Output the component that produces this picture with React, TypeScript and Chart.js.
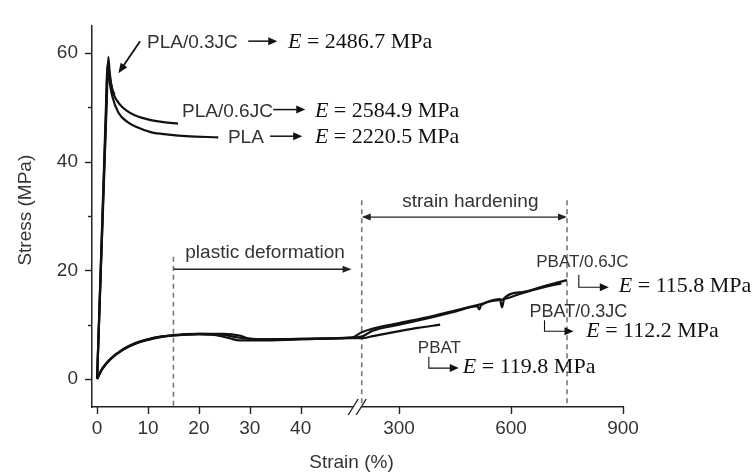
import React, { useEffect, useRef } from "react";
import { Chart, registerables } from "chart.js";
Chart.register(...registerables);

// ---------------- data: strain (%) and stress (MPa) ----------------
const PLA_03JC_STRAIN = [0, 0.7, 1.4, 1.9, 2.2, 2.5, 2.9, 3.4];
const PLA_03JC_STRESS = [0, 18.9, 37.7, 51.2, 59.3, 56.2, 53.6, 52.4];

const PLA_06JC_STRAIN = [0, 0.7, 1.4, 1.85, 2.1, 2.5, 3.2, 4.5, 5.8, 7.5, 10.4, 13, 15.9];
const PLA_06JC_STRESS = [0, 19.4, 38.9, 51.4, 58.4, 55.6, 52.6, 50.5, 49.4, 48.5, 47.7, 47.3, 47.0];

const PLA_STRAIN = [0, 0.7, 1.4, 1.75, 2.0, 2.4, 3.0, 4.2, 6, 8, 10.7, 14, 17.5, 23.8];
const PLA_STRESS = [0, 20.2, 40.3, 50.4, 57.6, 55.0, 52.0, 49.0, 47.3, 46.3, 45.4, 45.0, 44.7, 44.5];

const PBAT_STRAIN = [0, 1, 2.5, 5, 7.5, 10, 12.5, 15, 20, 23, 26, 28, 32, 40, 50, 200, 230, 300, 350, 410];
const PBAT_STRESS = [0, 1.9, 3.6, 5.4, 6.6, 7.3, 7.8, 8.0, 8.2, 8.1, 7.5, 7.1, 7.1, 7.3, 7.5, 7.5, 7.9, 8.8, 9.4, 10.0];

const PBAT_03JC_STRAIN = [0, 1, 2.5, 5, 7.5, 10, 12.5, 15, 20, 25, 28, 30, 35, 40, 50, 200, 230, 300, 390, 450, 510, 515, 520, 576, 630, 694, 735];
const PBAT_03JC_STRESS = [0, 1.8, 3.5, 5.3, 6.5, 7.2, 7.7, 8.0, 8.3, 8.3, 8.0, 7.4, 7.3, 7.4, 7.6, 7.8, 8.9, 10.0, 11.4, 12.4, 13.4, 12.8, 13.6, 14.6, 15.8, 17.0, 17.6];

const PBAT_06JC_STRAIN = [0, 1, 2.5, 5, 7.5, 10, 12.5, 15, 20, 24, 28, 32, 40, 50, 200, 230, 300, 390, 450, 515, 570, 576, 582, 630, 694, 750];
const PBAT_06JC_STRESS = [0, 1.8, 3.6, 5.4, 6.5, 7.3, 7.8, 8.1, 8.3, 8.2, 7.6, 7.3, 7.4, 7.6, 8.6, 9.3, 10.3, 11.6, 12.6, 13.7, 14.7, 13.2, 14.9, 16.0, 17.2, 18.2];

const X_TICKS = [0, 10, 20, 30, 40, 300, 600, 900];
const Y_MAJOR_TICKS = [0, 20, 40, 60];
const Y_MINOR_TICKS = [10, 30, 50];

// ---------------- broken x axis mapping ----------------
const SEG2_FROM = 200;
const SEG2_D = 52;
const SEG2_RATE = 44 / 600;
function mapX(s: number): number {
  return s < 100 ? s : SEG2_D + (s - SEG2_FROM) * SEG2_RATE;
}
const BREAK_D = 51.1;

const SANS = "'Liberation Sans', Arial, Helvetica, sans-serif";
const SERIF = "'Liberation Serif', 'Times New Roman', serif";
const TEXT = "#333";
const INK = "#111";

function series(xs: number[], ys: number[]) {
  return xs.map((s, i) => ({ x: mapX(s), y: ys[i] }));
}

const overlay = {
  id: "overlay",
  beforeDatasetsDraw(chart: any) {
    const ctx = chart.ctx;
    const xs = chart.scales.x;
    const ys = chart.scales.y;
    const X = (s: number) => xs.getPixelForValue(mapX(s));
    const Y = (v: number) => ys.getPixelForValue(v);
    const bottom = chart.chartArea.bottom;
    ctx.save();
    ctx.strokeStyle = "#777";
    ctx.lineWidth = 1.6;
    ctx.setLineDash([5, 4]);
    [
      { s: 15, v: 22.5 },
      { s: 200, v: 32.9 },
      { s: 750, v: 32.9 },
    ].forEach((d) => {
      ctx.beginPath();
      ctx.moveTo(X(d.s), Y(d.v));
      ctx.lineTo(X(d.s), bottom);
      ctx.stroke();
    });
    ctx.restore();
  },
  afterDraw(chart: any) {
    const ctx = chart.ctx;
    const xs = chart.scales.x;
    const ys = chart.scales.y;
    const ca = chart.chartArea;
    const X = (s: number) => xs.getPixelForValue(mapX(s));
    const Y = (v: number) => ys.getPixelForValue(v);
    ctx.save();

    // tick marks
    ctx.strokeStyle = "#222";
    ctx.lineWidth = 1.4;
    X_TICKS.forEach((s) => {
      const px = Math.round(X(s)) + 0.5;
      ctx.beginPath();
      ctx.moveTo(px, ca.bottom);
      ctx.lineTo(px, ca.bottom + 7);
      ctx.stroke();
    });
    Y_MAJOR_TICKS.forEach((v) => {
      const py = Math.round(Y(v)) + 0.5;
      ctx.beginPath();
      ctx.moveTo(ca.left - 7, py);
      ctx.lineTo(ca.left, py);
      ctx.stroke();
    });
    Y_MINOR_TICKS.forEach((v) => {
      const py = Math.round(Y(v)) + 0.5;
      ctx.beginPath();
      ctx.moveTo(ca.left - 4, py);
      ctx.lineTo(ca.left, py);
      ctx.stroke();
    });

    // axis break marks
    const xb = xs.getPixelForValue(BREAK_D);
    const yb = ca.bottom;
    ctx.fillStyle = "#fff";
    ctx.beginPath();
    ctx.moveTo(xb - 4 - 2.5, yb + 4);
    ctx.lineTo(xb + 4 - 2.5, yb + 4);
    ctx.lineTo(xb + 4 + 2.5, yb - 4);
    ctx.lineTo(xb - 4 + 2.5, yb - 4);
    ctx.closePath();
    ctx.fill();
    ctx.strokeStyle = "#222";
    ctx.lineWidth = 1.4;
    [-4, 4].forEach((o) => {
      ctx.beginPath();
      ctx.moveTo(xb + o - 5, yb + 8);
      ctx.lineTo(xb + o + 5, yb - 8);
      ctx.stroke();
    });

    // arrow helpers
    const head = (x1: number, y1: number, x2: number, y2: number, len: number, hw: number) => {
      const a = Math.atan2(y2 - y1, x2 - x1);
      ctx.beginPath();
      ctx.moveTo(x2, y2);
      ctx.lineTo(x2 - len * Math.cos(a) + hw * Math.sin(a), y2 - len * Math.sin(a) - hw * Math.cos(a));
      ctx.lineTo(x2 - len * Math.cos(a) - hw * Math.sin(a), y2 - len * Math.sin(a) + hw * Math.cos(a));
      ctx.closePath();
      ctx.fill();
    };
    const arrow = (x1: number, y1: number, x2: number, y2: number, len = 9, hw = 3.8, both = false, lw = 1.5) => {
      const a = Math.atan2(y2 - y1, x2 - x1);
      ctx.lineWidth = lw;
      ctx.beginPath();
      ctx.moveTo(both ? x1 + (len - 1) * Math.cos(a) : x1, both ? y1 + (len - 1) * Math.sin(a) : y1);
      ctx.lineTo(x2 - (len - 1) * Math.cos(a), y2 - (len - 1) * Math.sin(a));
      ctx.stroke();
      head(x1, y1, x2, y2, len, hw);
      if (both) head(x2, y2, x1, y1, len, hw);
    };

    ctx.strokeStyle = INK;
    ctx.fillStyle = INK;
    // arrows after PLA labels
    [
      { s1: 29.7, s2: 35.4, v: 62.2 },
      { s1: 34.6, s2: 40.9, v: 49.6 },
      { s1: 34.0, s2: 40.3, v: 44.7 },
    ].forEach((a) => arrow(X(a.s1), Y(a.v), X(a.s2), Y(a.v), 9, 4));
    // pointer to PLA/0.3JC peak
    arrow(X(8.45), Y(62.2), X(4.18), Y(56.3), 10, 4, false, 1.8);

    // region arrows
    ctx.strokeStyle = "#222";
    ctx.fillStyle = "#222";
    arrow(X(15), Y(20.2), X(50.0), Y(20.2), 9, 3.5, false, 1.3);
    arrow(X(200), Y(29.8), X(750), Y(29.8), 9, 3.5, true, 1.3);

    // hook arrows for PBAT labels
    ctx.strokeStyle = INK;
    ctx.fillStyle = INK;
    [
      { s: 781.6, vTop: 19.2, vBot: 16.9, sTip: 862 },
      { s: 689.7, vTop: 10.8, vBot: 8.8, sTip: 767.4 },
      { s: 379.8, vTop: 4.1, vBot: 2.0, sTip: 460 },
    ].forEach((h) => {
      const xv = X(h.s);
      const yb2 = Y(h.vBot);
      const xt = X(h.sTip);
      ctx.lineWidth = 1.1;
      ctx.beginPath();
      ctx.moveTo(xv, Y(h.vTop));
      ctx.lineTo(xv, yb2);
      ctx.lineTo(xt - 7, yb2);
      ctx.stroke();
      head(xv, yb2, xt, yb2, 9, 4);
    });

    // sans labels
    ctx.fillStyle = TEXT;
    ctx.textBaseline = "alphabetic";
    ctx.textAlign = "left";
    [
      { t: "PLA/0.3JC", s: 9.8, v: 61.0, size: 19 },
      { t: "PLA/0.6JC", s: 16.7, v: 48.15, size: 19 },
      { t: "PLA", s: 25.7, v: 43.5, size: 19 },
      { t: "PBAT/0.6JC", s: 667.5, v: 20.7, size: 17 },
      { t: "PBAT/0.3JC", s: 649.5, v: 11.5, size: 18 },
      { t: "PBAT", s: 350.3, v: 4.7, size: 17 },
    ].forEach((l) => {
      ctx.font = `${l.size}px ${SANS}`;
      ctx.fillText(l.t, X(l.s), Y(l.v));
    });
    ctx.textAlign = "center";
    ctx.font = `19px ${SANS}`;
    ctx.fillText("plastic deformation", X(33), Y(22.2));
    ctx.fillText("strain hardening", X(491), Y(31.7));

    // modulus labels (serif, italic E)
    ctx.textAlign = "left";
    ctx.fillStyle = INK;
    [
      { s: 37.5, v: 61.0, rest: " = 2486.7 MPa" },
      { s: 42.8, v: 48.15, rest: " = 2584.9 MPa" },
      { s: 42.8, v: 43.5, rest: " = 2220.5 MPa" },
      { s: 888.7, v: 15.95, rest: " = 115.8 MPa" },
      { s: 801.4, v: 7.65, rest: " = 112.2 MPa" },
      { s: 470.8, v: 1.1, rest: " = 119.8 MPa" },
    ].forEach((e) => {
      const x0 = X(e.s);
      const y0 = Y(e.v);
      ctx.font = `italic 22px ${SERIF}`;
      ctx.fillText("E", x0, y0);
      const w = ctx.measureText("E").width;
      ctx.font = `22px ${SERIF}`;
      ctx.fillText(e.rest, x0 + w, y0);
    });

    // axis titles
    ctx.fillStyle = TEXT;
    ctx.font = `19px ${SANS}`;
    ctx.textAlign = "center";
    ctx.fillText("Strain (%)", (ca.left + ca.right) / 2 - 6, ca.bottom + 61);
    ctx.save();
    ctx.translate(31, (ca.top + ca.bottom) / 2 - 6);
    ctx.rotate(-Math.PI / 2);
    ctx.fillText("Stress (MPa)", 0, 0);
    ctx.restore();

    ctx.restore();
  },
};

export default function App() {
  const ref = useRef<HTMLCanvasElement | null>(null);
  useEffect(() => {
    if (!ref.current) return;
    const line = (data: { x: number; y: number }[]) => ({
      data,
      borderColor: INK,
      borderWidth: 2.2,
      pointRadius: 0,
      fill: false,
      cubicInterpolationMode: "monotone" as const,
    });
    const chart = new Chart(ref.current, {
      type: "line",
      data: {
        datasets: [
          line(series(PLA_03JC_STRAIN, PLA_03JC_STRESS)),
          line(series(PLA_06JC_STRAIN, PLA_06JC_STRESS)),
          line(series(PLA_STRAIN, PLA_STRESS)),
          line(series(PBAT_STRAIN, PBAT_STRESS)),
          line(series(PBAT_03JC_STRAIN, PBAT_03JC_STRESS)),
          line(series(PBAT_06JC_STRAIN, PBAT_06JC_STRESS)),
        ],
      },
      options: {
        animation: false,
        responsive: true,
        maintainAspectRatio: false,
        layout: { padding: { left: 0, right: 132, top: 12, bottom: 0 } },
        plugins: { legend: { display: false }, tooltip: { enabled: false } },
        scales: {
          x: {
            type: "linear",
            min: -1,
            max: mapX(900),
            afterBuildTicks: (scale: any) => {
              scale.ticks = X_TICKS.map((s) => ({ value: mapX(s) }));
            },
            afterFit: (scale: any) => {
              scale.height = 66;
            },
            grid: { display: true, drawOnChartArea: false, drawTicks: false },
            border: { display: true, color: "#222", width: 1.5 },
            ticks: {
              autoSkip: false,
              maxRotation: 0,
              padding: 10,
              color: TEXT,
              font: { family: SANS, size: 19 },
              callback: (_v: any, i: number) => String(X_TICKS[i]),
            },
          },
          y: {
            type: "linear",
            min: -5.16,
            max: 65.1,
            afterBuildTicks: (scale: any) => {
              scale.ticks = Y_MAJOR_TICKS.map((v) => ({ value: v }));
            },
            afterFit: (scale: any) => {
              scale.width = 92;
            },
            grid: { display: true, drawOnChartArea: false, drawTicks: false },
            border: { display: true, color: "#222", width: 1.5 },
            ticks: {
              padding: 14,
              color: TEXT,
              font: { family: SANS, size: 19 },
              callback: (v: any) => String(v),
            },
          },
        },
      },
      plugins: [overlay],
    });
    return () => chart.destroy();
  }, []);
  return (
    <div style={{ position: "absolute", left: 0, top: 0, width: 755, height: 473, background: "#fff" }}>
      <canvas ref={ref} />
    </div>
  );
}
